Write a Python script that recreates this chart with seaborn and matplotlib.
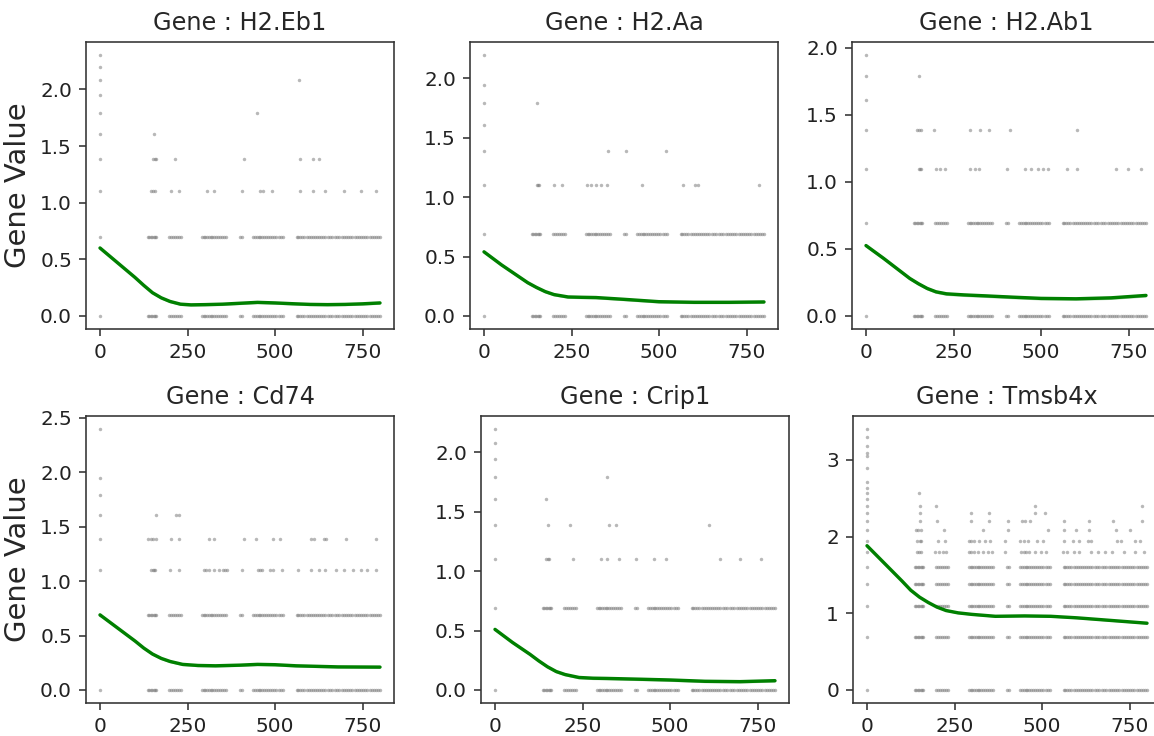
import matplotlib
matplotlib.use("Agg")
import matplotlib.pyplot as plt
import seaborn as sns
import pandas as pd

sns.set_style("ticks")
plt.rcParams['font.family'] = ['DejaVu Sans']
plt.rcParams['axes.edgecolor'] = '#333333'
plt.rcParams['xtick.color'] = '#333333'
plt.rcParams['ytick.color'] = '#333333'
plt.rcParams['xtick.labelcolor'] = '#222222'
plt.rcParams['ytick.labelcolor'] = '#222222'

# ---------------- data ----------------
GENES = ["H2.Eb1", "H2.Aa", "H2.Ab1", "Cd74", "Crip1", "Tmsb4x"]

# pseudotime positions of the cells (dense rows)
X_CELLS = [0, 137, 141, 145, 149, 153, 157, 161, 198, 203, 208, 214, 220, 226, 231,
           291, 296, 301, 306, 311, 316, 321, 326, 331, 337, 343, 349, 355, 360,
           400, 405, 438, 443, 448, 453, 458, 463, 468, 474, 480, 486, 492, 498,
           504, 510, 517, 524, 562, 567, 572, 578, 584, 590, 596, 602, 608, 614,
           620, 626, 632, 638, 644, 650, 656, 662, 672, 678, 684, 690, 696, 702,
           708, 714, 720, 728, 734, 740, 746, 752, 758, 764, 770, 776, 782, 788,
           794, 800]

# sparse rows: (gene value, pseudotimes)
H2EB1_SPARSE = [
    (1.099, [0, 146, 151, 156, 203, 226, 307, 325, 406, 458, 467, 491, 571, 608, 642, 698, 745, 788]),
    (1.386, [0, 151, 156, 160, 214, 412, 571, 608, 627]),
    (1.609, [0, 153]),
    (1.792, [0, 448]),
    (1.946, [0]),
    (2.079, [0, 568]),
    (2.197, [0]),
    (2.303, [0]),
]
H2AA_SPARSE = [
    (1.099, [0, 150, 154, 157, 200, 223, 293, 305, 320, 335, 350, 452, 568, 602, 611, 787]),
    (1.386, [0, 355, 407, 519]),
    (1.609, [0]),
    (1.792, [0, 152]),
    (1.946, [0]),
    (2.197, [0]),
]
H2AB1_SPARSE = [
    (1.099, [0, 150, 153, 156, 199, 210, 225, 298, 310, 322, 402, 455, 470, 490, 505, 520, 573, 604, 715, 748, 786]),
    (1.386, [0, 145, 150, 156, 194, 296, 325, 350, 412, 604]),
    (1.609, [0]),
    (1.792, [0, 150]),
    (1.946, [0]),
]
CD74_SPARSE = [
    (1.099, [0, 146, 150, 154, 158, 201, 226, 297, 303, 310, 325, 340, 350, 357, 363, 406, 451, 457, 462,
             486, 495, 519, 566, 604, 627, 642, 675, 698, 722, 745, 764, 788]),
    (1.386, [0, 137, 145, 152, 160, 203, 226, 311, 325, 410, 445, 495, 514, 604, 612, 640, 646, 703, 788]),
    (1.609, [0, 160, 217, 226]),
    (1.792, [0]),
    (1.946, [0]),
    (2.398, [0]),
]
CRIP1_SPARSE = [
    (1.099, [0, 145, 150, 155, 224, 302, 321, 355, 402, 454, 488, 644, 700, 759]),
    (1.386, [0, 150, 214, 326, 345, 611]),
    (1.609, [0, 145]),
    (1.792, [0, 321]),
    (1.946, [0]),
    (2.079, [0]),
    (2.197, [0]),
]
TMSB4X_DENSE_LEVELS = [0.0, 0.693, 1.099, 1.386, 1.609]
TMSB4X_SPARSE = [
    (1.792, [0, 143, 148, 153, 193, 205, 217, 226, 291, 297, 305, 318, 331, 345, 357, 395, 440, 448,
             455, 462, 480, 496, 510, 560, 572, 590, 605, 640, 660, 680, 701, 735, 765, 790]),
    (1.946, [0, 143, 150, 155, 202, 223, 291, 298, 306, 320, 336, 350, 395, 437, 448, 460, 486, 504,
             562, 588, 607, 630, 640, 713, 725, 765, 780]),
    (2.079, [0, 141, 146, 153, 221, 330, 402, 517, 564, 597, 635, 710, 752]),
    (2.197, [0, 150, 199, 296, 348, 402, 442, 451, 466, 564, 635, 703, 785]),
    (2.303, [0, 150, 296, 348, 481, 509]),
    (2.398, [0, 150, 197, 481, 785]),
    (2.485, [0]),
    (2.565, [0, 148]),
    (2.639, [0]), (2.708, [0]), (2.890, [0]), (3.045, [0]), (3.091, [0]),
    (3.178, [0]), (3.296, [0]), (3.401, [0]),
]
SPARSE = [H2EB1_SPARSE, H2AA_SPARSE, H2AB1_SPARSE, CD74_SPARSE, CRIP1_SPARSE, TMSB4X_SPARSE]
DENSE_LEVELS = [[0.0, 0.693], [0.0, 0.693], [0.0, 0.693], [0.0, 0.693], [0.0, 0.693],
                TMSB4X_DENSE_LEVELS]

# smoothed trend
H2EB1_CURVE_X = [0, 50, 100, 125, 150, 175, 200, 230, 260, 300, 350, 400, 450, 500, 550, 600, 650, 700, 750, 800]
H2EB1_CURVE_Y = [0.60, 0.47, 0.34, 0.27, 0.205, 0.16, 0.128, 0.104, 0.098, 0.10, 0.104, 0.112, 0.12, 0.115, 0.108, 0.102, 0.10, 0.102, 0.107, 0.115]
H2AA_CURVE_X = [0, 50, 100, 125, 150, 175, 200, 240, 280, 320, 400, 500, 600, 700, 800]
H2AA_CURVE_Y = [0.54, 0.43, 0.33, 0.28, 0.24, 0.205, 0.18, 0.16, 0.157, 0.155, 0.14, 0.12, 0.115, 0.115, 0.118]
H2AB1_CURVE_X = [0, 50, 100, 125, 150, 175, 200, 230, 280, 340, 420, 500, 600, 700, 800]
H2AB1_CURVE_Y = [0.525, 0.43, 0.33, 0.28, 0.24, 0.205, 0.18, 0.165, 0.157, 0.15, 0.14, 0.131, 0.128, 0.135, 0.153]
CD74_CURVE_X = [0, 50, 100, 125, 150, 175, 200, 236, 280, 330, 400, 450, 500, 560, 680, 800]
CD74_CURVE_Y = [0.69, 0.57, 0.45, 0.385, 0.33, 0.29, 0.262, 0.235, 0.225, 0.222, 0.228, 0.235, 0.232, 0.222, 0.212, 0.21]
CRIP1_CURVE_X = [0, 50, 100, 125, 150, 175, 200, 240, 280, 320, 420, 500, 600, 700, 800]
CRIP1_CURVE_Y = [0.51, 0.40, 0.30, 0.245, 0.195, 0.155, 0.13, 0.105, 0.099, 0.097, 0.09, 0.084, 0.073, 0.07, 0.078]
TMSB4X_CURVE_X = [0, 50, 100, 125, 150, 175, 200, 226, 260, 300, 367, 450, 525, 600, 700, 800]
TMSB4X_CURVE_Y = [1.88, 1.65, 1.42, 1.30, 1.21, 1.14, 1.08, 1.035, 1.005, 0.985, 0.96, 0.965, 0.96, 0.94, 0.905, 0.87]
CURVES = [(H2EB1_CURVE_X, H2EB1_CURVE_Y), (H2AA_CURVE_X, H2AA_CURVE_Y),
          (H2AB1_CURVE_X, H2AB1_CURVE_Y), (CD74_CURVE_X, CD74_CURVE_Y),
          (CRIP1_CURVE_X, CRIP1_CURVE_Y), (TMSB4X_CURVE_X, TMSB4X_CURVE_Y)]

# ---------------- layout ----------------
W, H = 1154, 736
fig = plt.figure(figsize=(W / 144, H / 144), dpi=144)
AX_W = 308 / W
AX_H = 287 / H
POS = [(86, 42), (470, 42), (852, 42), (86, 416), (481, 416), (853, 416)]

for i, gene in enumerate(GENES):
    left, top = POS[i]
    ax = fig.add_axes([left / W, (H - top - 287) / H, AX_W, AX_H])
    xs, ys = [], []
    for lvl in DENSE_LEVELS[i]:
        for x in X_CELLS:
            xs.append(x)
            ys.append(lvl)
    for lvl, xl in SPARSE[i]:
        for x in xl:
            xs.append(x)
            ys.append(lvl)
    pts = pd.DataFrame({"x": xs, "y": ys})
    sns.scatterplot(data=pts, x="x", y="y", ax=ax, color="#7f7f7f", s=3,
                    alpha=0.55, linewidth=0, edgecolor=None)
    cx, cy = CURVES[i]
    cdf = pd.DataFrame({"x": cx, "y": cy})
    ax.fill_between(cx, [v - 0.012 for v in cy], [v + 0.012 for v in cy],
                    color="green", alpha=0.3, linewidth=0)
    sns.lineplot(data=cdf, x="x", y="y", ax=ax, color="green", linewidth=1.7)
    ax.set_title(f"Gene : {gene}", fontsize=12)
    ax.set_xlabel("")
    ax.set_ylabel("Gene Value" if i % 3 == 0 else "", fontsize=14.5)
    ax.set_xticks([0, 250, 500, 750])
    ax.tick_params(labelsize=10)
    for sp in ax.spines.values():
        sp.set_visible(True)

fig.savefig("out.png", dpi=144)
